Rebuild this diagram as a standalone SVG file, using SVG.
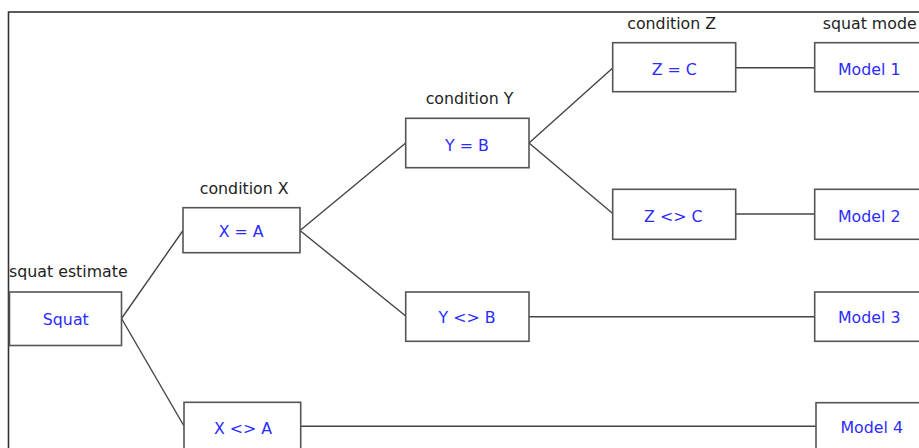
<svg xmlns="http://www.w3.org/2000/svg" width="919" height="448" viewBox="0 0 919 448">
<style>
.frame{fill:none;stroke:#333;stroke-width:1.6}
.box{fill:#fff;stroke:#555;stroke-width:1.6}
.lbl{font-family:"DejaVu Sans",sans-serif;font-size:15.8px;fill:#222}
.txt{font-family:"DejaVu Sans",sans-serif;font-size:15.8px;fill:#2b2bff;text-anchor:middle}
.con{fill:none;stroke:#444;stroke-width:1.4}
</style>
<rect width="919" height="448" fill="#fff"/>
<rect class="frame" x="8.5" y="12" width="1000" height="500"/>
<g id="connectors">
<line class="con" x1="121.5" y1="318.5" x2="183" y2="230.5"/>
<line class="con" x1="121.5" y1="318.5" x2="184" y2="426"/>
<line class="con" x1="300" y1="230.5" x2="405.7" y2="143"/>
<line class="con" x1="300" y1="230.5" x2="405.7" y2="316"/>
<line class="con" x1="529" y1="143" x2="612.7" y2="68"/>
<line class="con" x1="529" y1="143" x2="612.7" y2="213.5"/>
<line class="con" x1="735.7" y1="67.7" x2="814.7" y2="67.7"/>
<line class="con" x1="735.7" y1="214" x2="814.7" y2="214"/>
<line class="con" x1="529" y1="316.7" x2="814.7" y2="316.7"/>
<line class="con" x1="300.7" y1="426.3" x2="816" y2="426.3"/>
</g>
<g id="squat">
<text class="lbl" x="9" y="276.5">squat estimate</text>
<rect class="box" x="9.5" y="292" width="112" height="53.5"/>
<text class="txt" x="65.8" y="325">Squat</text>
</g>
<g id="x-eq-a">
<text class="lbl" x="244.2" y="194" text-anchor="middle">condition X</text>
<rect class="box" x="183" y="207.7" width="117" height="45"/>
<text class="txt" x="241.2" y="237">X = A</text>
</g>
<g id="x-ne-a">
<rect class="box" x="184" y="402.3" width="116.7" height="52"/>
<text class="txt" x="243" y="434">X &lt;&gt; A</text>
</g>
<g id="y-eq-b">
<text class="lbl" x="469.5" y="104" text-anchor="middle">condition Y</text>
<rect class="box" x="405.7" y="118.3" width="123.3" height="49.4"/>
<text class="txt" x="467" y="151">Y = B</text>
</g>
<g id="y-ne-b">
<rect class="box" x="405.7" y="292" width="123.3" height="49.3"/>
<text class="txt" x="467" y="323">Y &lt;&gt; B</text>
</g>
<g id="z-eq-c">
<text class="lbl" x="671.7" y="29" text-anchor="middle">condition Z</text>
<rect class="box" x="612.7" y="42.7" width="123" height="49"/>
<text class="txt" x="674.2" y="75">Z = C</text>
</g>
<g id="z-ne-c">
<rect class="box" x="612.7" y="189.3" width="123" height="50"/>
<text class="txt" x="673.3" y="221.7">Z &lt;&gt; C</text>
</g>
<g id="model1">
<text class="lbl" x="822.7" y="29">squat mode</text>
<rect class="box" x="814.7" y="42.7" width="120" height="49"/>
<text class="txt" x="869.2" y="75">Model 1</text>
</g>
<g id="model2">
<rect class="box" x="814.7" y="189.3" width="120" height="50"/>
<text class="txt" x="869.2" y="221.7">Model 2</text>
</g>
<g id="model3">
<rect class="box" x="814.7" y="292" width="120" height="49.3"/>
<text class="txt" x="869.2" y="323">Model 3</text>
</g>
<g id="model4">
<rect class="box" x="816" y="402.7" width="120" height="52"/>
<text class="txt" x="871.7" y="433.3">Model 4</text>
</g>
</svg>
